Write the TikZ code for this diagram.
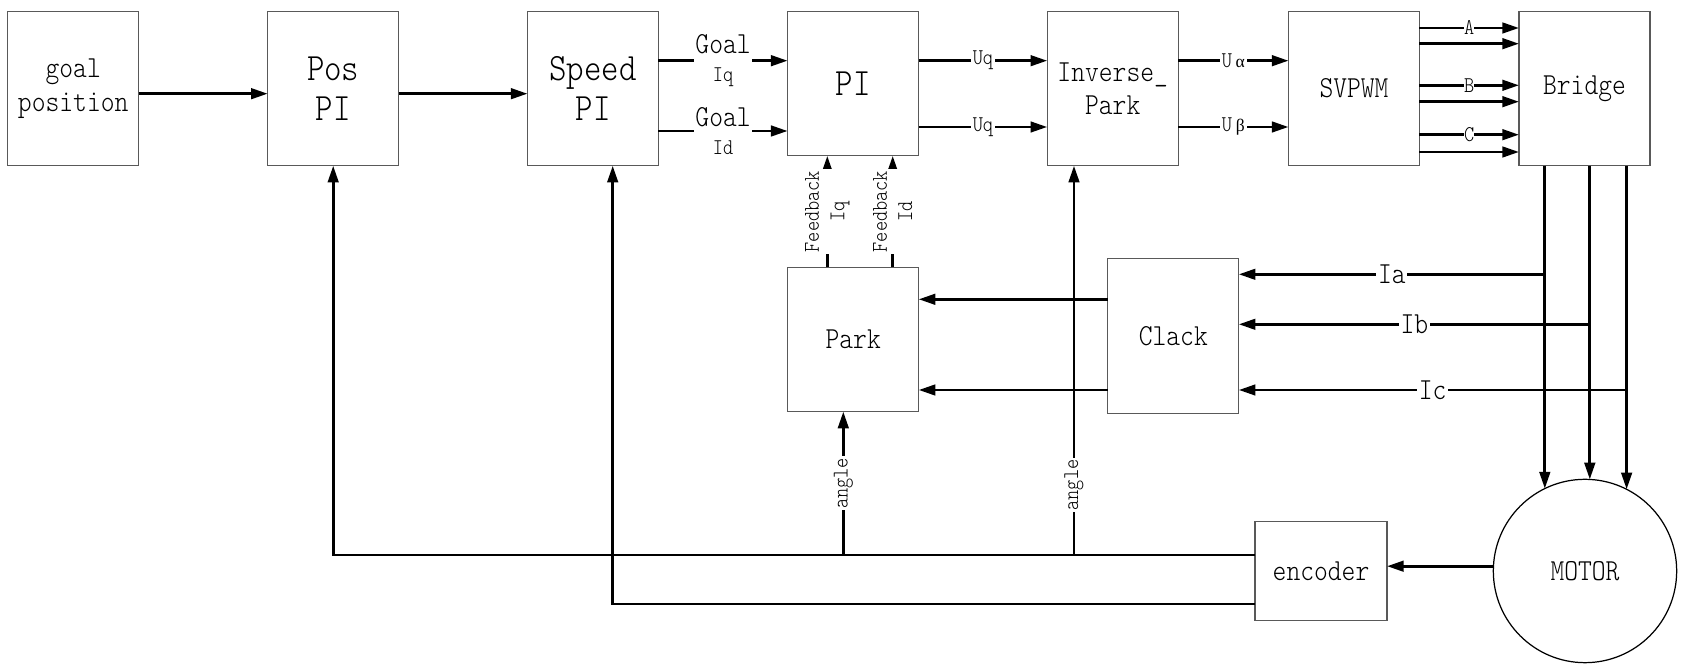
\documentclass[tikz,border=0pt]{standalone}
\usepackage{fontspec}
\setmonofont{lmmonolt10-regular.otf}[FakeStretch=0.86]
\newfontfamily\grkfont{Liberation Serif}
\usetikzlibrary{arrows.meta}

\newcommand\bigtxt{\fontsize{22}{23}\selectfont}
\newcommand\midtxt{\fontsize{17.4}{19}\selectfont}
\newcommand\smltxt{\fontsize{12.8}{14.5}\selectfont}

\begin{document}
\begin{tikzpicture}[
  x=0.02cm, y=-0.02cm,
  font=\ttfamily\midtxt,
  box/.style={draw=black!65, line width=0.7pt, fill=white, rectangle,
              minimum width=2.62cm, minimum height=3.09cm, align=center,
              inner sep=0pt, outer sep=0pt},
  arr/.style={-{Triangle[length=9.5pt,width=6pt]}, line width=1.6pt},
  lbl/.style={font=\ttfamily\smltxt, fill=white, inner sep=1pt},
  big/.style={font=\ttfamily\bigtxt},
]
  \useasboundingbox (0,0) rectangle (1685,671);

  \def\yM{93.7}   % reference chain
  \def\yU{60.7}   % q axis
  \def\yL{127}    % d axis

  % --- Blocks ---
  \node[box] (goal) at (73.2,88.5) {goal\\position};
  \node[box, big] (pos) at (333.2,88.5) {Pos\\PI};
  \node[box, big] (speed) at (593,88.5) {Speed\\PI};
  \node[box, big, minimum height=2.89cm] (pi) at (853.1,83.6) {PI};
  \node[box] (inv) at (1112.7,88.5) {Inverse\_\\Park};
  \node[box] (svpwm) at (1354,88.5) {SVPWM};
  \node[box] (bridge) at (1584.5,88.5) {Bridge};
  \node[box, minimum height=2.886cm] (park) at (853.2,339.5) {Park};
  \node[box, minimum height=3.1cm] (clack) at (1173.3,335.8) {Clack};
  \node[box, minimum width=2.64cm, minimum height=1.97cm] (enc) at (1321,571) {encoder};
  \node[circle, draw, line width=0.7pt, minimum size=3.668cm, inner sep=0pt,
        outer sep=0pt] (motor) at (1585,571) {MOTOR};

  % ======== Forward path ========
  \draw[arr] (goal.east |- 0,\yM) -- (pos.west |- 0,\yM);
  \draw[arr] (pos.east |- 0,\yM) -- (speed.west |- 0,\yM);

  \draw[arr] (speed.east |- 0,\yU) -- (pi.west |- 0,\yU)
    node[lbl, midway, align=center, font=\ttfamily\fontsize{12.8}{16}\selectfont]
    {{\midtxt Goal}\\Iq};
  \draw[arr] (speed.east |- 0,131) -- (pi.west |- 0,131)
    node[lbl, midway, align=center, font=\ttfamily\fontsize{12.8}{16}\selectfont]
    {{\midtxt Goal}\\Id};

  \draw[arr] (pi.east |- 0,\yU) -- (inv.west |- 0,\yU) node[lbl, midway] {Uq};
  \draw[arr] (pi.east |- 0,\yL) -- (inv.west |- 0,\yL) node[lbl, midway] {Uq};

  \draw[arr] (inv.east |- 0,\yU) -- (svpwm.west |- 0,\yU)
    node[lbl, midway] {U\,{\grkfont\fontsize{10}{12}\selectfont α}};
  \draw[arr] (inv.east |- 0,\yL) -- (svpwm.west |- 0,\yL)
    node[lbl, midway] {U\,{\grkfont\fontsize{10}{12}\selectfont β}};

  \foreach \ya/\yb/\phs in {28/43.7/A, 85.3/101.7/B, 134.7/152/C} {
    \draw[arr] (svpwm.east |- 0,\ya) -- (bridge.west |- 0,\ya)
      node[lbl, midway, inner sep=0pt] {\phs};
    \draw[arr] (svpwm.east |- 0,\yb) -- (bridge.west |- 0,\yb);
  }

  % ======== Phase currents ========
  \foreach \ang/\yc/\cur in {116.9/274.3/Ia, 87.8/324.3/Ib, 63.4/390/Ic} {
    \draw[arr] (bridge.south -| motor.\ang) -- (motor.\ang);
    \draw[arr] (motor.\ang |- 0,\yc) -- (clack.east |- 0,\yc)
      node[lbl, midway, font=\ttfamily\midtxt] {\cur};
  }

  \foreach \yc in {299.3, 390}
    \draw[arr] (clack.west |- 0,\yc) -- (park.east |- 0,\yc);

  % --- Feedback to PI ---
  \draw[arr] (park.north -| 827.3,0) -- (pi.south -| 827.3,0)
    node[lbl, rotate=90, midway, align=center] {Feedback\\Iq};
  \draw[arr] (park.north -| 892.7,0) -- (pi.south -| 892.7,0)
    node[lbl, rotate=90, midway, align=center] {Feedback\\Id};

  % ======== Encoder ========
  \draw[arr] (motor.177) -- (enc.east |- motor.177);
  \draw[arr] (enc.west |- 0,555) -| (pos.south);
  \draw[arr] (enc.west |- 0,604) -| (speed.south -| 612.7,0);

  \coordinate (ja) at (843.3,555);
  \coordinate (jb) at (1074,555);
  \draw[arr] (ja) -- (park.south -| ja) node[lbl, rotate=90, midway] {angle};
  \draw[arr] (jb) -- (inv.south -| jb) node[lbl, rotate=90, pos=0.18] {angle};

\end{tikzpicture}
\end{document}
